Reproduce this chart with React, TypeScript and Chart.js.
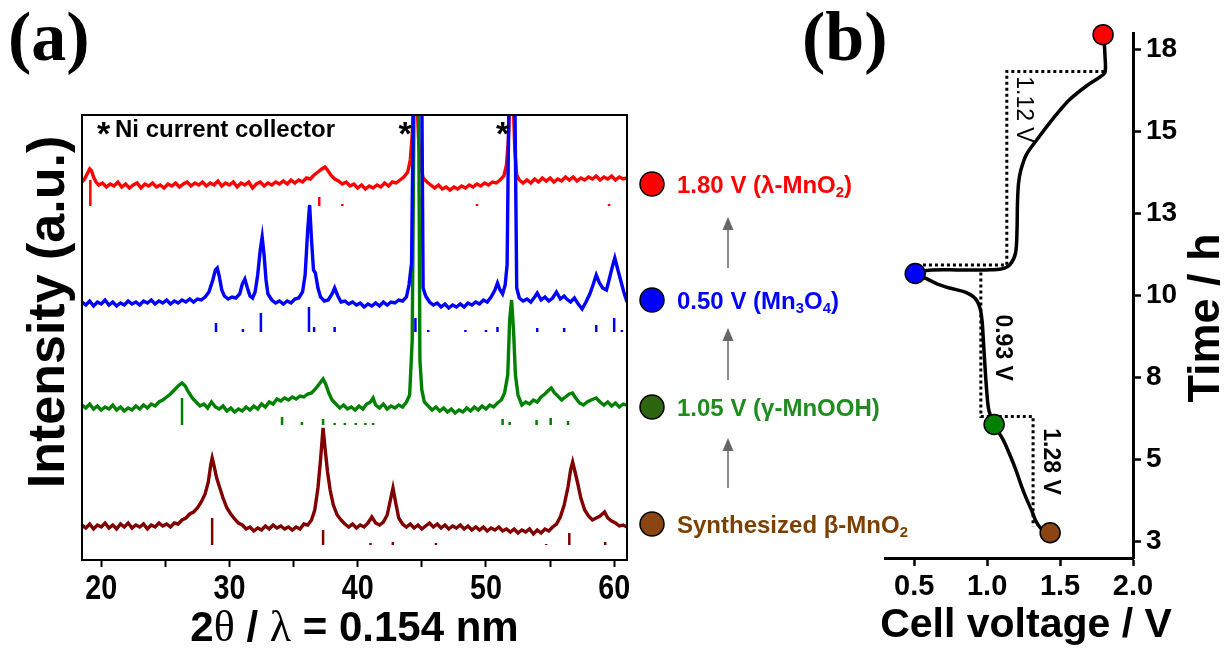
import React, { useEffect, useRef } from "react";
import { Chart, registerables } from "chart.js";

Chart.register(...registerables);

const SANS = "'Liberation Sans', Arial, Helvetica, sans-serif";
const SERIF = "'Liberation Serif', 'Times New Roman', Times, serif";

// ---------------- Panel (a): XRD patterns (2θ in °, intensity in a.u., stacked) ----------------
const thetaTicks = [20, 25, 30, 35, 40, 45, 50, 55, 60];
const thetaTickLabels = ["20", "", "30", "", "40", "", "50", "", "60"];

// 1.80 V (λ-MnO2)
const xrd180V: [number, number][] = [
  [18.5, 378], [18.7, 381], [18.9, 386], [19.1, 391], [19.25, 389], [19.4, 383], [19.6, 378], [19.8, 375],
  [20.1, 377], [20.4, 373], [20.7, 376], [21.0, 374], [21.3, 378], [21.6, 373], [21.9, 376], [22.2, 372],
  [22.5, 375], [22.8, 377], [23.1, 372], [23.4, 376], [23.7, 374], [24.0, 377], [24.3, 373], [24.6, 375],
  [24.9, 372], [25.2, 376], [25.5, 374], [25.8, 377], [26.1, 373], [26.4, 376], [26.7, 378], [27.0, 374],
  [27.3, 377], [27.6, 375], [27.9, 378], [28.2, 374], [28.5, 377], [28.8, 375], [29.1, 379], [29.4, 374],
  [29.7, 377], [30.0, 375], [30.3, 378], [30.6, 373], [30.9, 377], [31.2, 375], [31.5, 378], [31.8, 372],
  [32.1, 376], [32.4, 378], [32.7, 374], [33.0, 377], [33.3, 375], [33.6, 378], [33.9, 376], [34.2, 379],
  [34.5, 376], [34.8, 380], [35.1, 377], [35.4, 380], [35.7, 378], [36.0, 382], [36.3, 381], [36.6, 385],
  [36.9, 388], [37.2, 391], [37.45, 393], [37.7, 389], [37.9, 385], [38.2, 381], [38.5, 379], [38.8, 376],
  [39.1, 378], [39.4, 374], [39.7, 376], [40.0, 372], [40.3, 375], [40.6, 371], [40.9, 374], [41.2, 372],
  [41.5, 375], [41.8, 373], [42.1, 377], [42.4, 374], [42.7, 378], [43.0, 377], [43.3, 380], [43.6, 383],
  [43.9, 388], [44.1, 400], [44.25, 425], [44.4, 470], [44.6, 470], [44.75, 420], [44.9, 395], [45.1, 382],
  [45.4, 378], [45.7, 375], [46.0, 372], [46.3, 375], [46.6, 371], [46.9, 373], [47.2, 370], [47.5, 373],
  [47.8, 371], [48.1, 374], [48.4, 372], [48.7, 375], [49.0, 373], [49.3, 376], [49.6, 374], [49.9, 377],
  [50.2, 375], [50.5, 378], [50.8, 377], [51.1, 380], [51.4, 384], [51.6, 395], [51.75, 420], [51.9, 470],
  [52.1, 470], [52.25, 410], [52.4, 385], [52.6, 380], [52.9, 377], [53.2, 380], [53.5, 377], [53.8, 381],
  [54.1, 378], [54.4, 382], [54.7, 379], [55.0, 382], [55.3, 378], [55.6, 381], [55.9, 379], [56.2, 383],
  [56.5, 380], [56.8, 383], [57.1, 379], [57.4, 382], [57.7, 380], [58.0, 383], [58.3, 381], [58.6, 384],
  [58.9, 380], [59.2, 383], [59.5, 381], [59.8, 384], [60.1, 380], [60.4, 383], [60.7, 381], [61.0, 382],
];

// 0.50 V (Mn3O4)
const xrd050V: [number, number][] = [
  [18.5, 258], [18.8, 255], [19.1, 259], [19.4, 254], [19.7, 258], [20.0, 256], [20.3, 260], [20.6, 255],
  [20.9, 258], [21.2, 254], [21.5, 257], [21.8, 255], [22.1, 259], [22.4, 256], [22.7, 258], [23.0, 255],
  [23.3, 259], [23.6, 257], [23.9, 260], [24.2, 256], [24.5, 259], [24.8, 257], [25.1, 260], [25.4, 256],
  [25.7, 259], [26.0, 257], [26.3, 260], [26.6, 258], [26.9, 261], [27.2, 258], [27.5, 261], [27.8, 260],
  [28.1, 263], [28.4, 268], [28.7, 280], [28.9, 290], [29.05, 292], [29.2, 284], [29.4, 270], [29.6, 264],
  [29.9, 261], [30.2, 263], [30.5, 262], [30.8, 266], [31.0, 276], [31.2, 281], [31.4, 272], [31.6, 264],
  [31.8, 262], [32.0, 268], [32.2, 285], [32.4, 310], [32.55, 323], [32.7, 305], [32.85, 280], [33.0, 266],
  [33.3, 260], [33.6, 257], [33.9, 259], [34.2, 256], [34.5, 259], [34.8, 257], [35.1, 261], [35.4, 262],
  [35.7, 268], [35.9, 285], [36.1, 330], [36.25, 355], [36.4, 320], [36.55, 290], [36.7, 287], [36.9, 272],
  [37.1, 263], [37.4, 259], [37.7, 260], [38.0, 266], [38.2, 272], [38.45, 264], [38.7, 258], [39.0, 259],
  [39.3, 256], [39.6, 258], [39.9, 255], [40.2, 257], [40.5, 253], [40.8, 256], [41.1, 254], [41.4, 257],
  [41.7, 254], [42.0, 258], [42.3, 255], [42.6, 258], [42.9, 257], [43.2, 260], [43.5, 259], [43.8, 263],
  [44.0, 275], [44.2, 297], [44.35, 470], [45.0, 470], [45.1, 272], [45.3, 264], [45.6, 258], [45.9, 255],
  [46.2, 257], [46.5, 253], [46.8, 256], [47.1, 252], [47.4, 255], [47.7, 253], [48.0, 256], [48.3, 253],
  [48.6, 257], [48.9, 255], [49.2, 258], [49.5, 256], [49.8, 260], [50.1, 258], [50.4, 263], [50.7, 270],
  [50.9, 277], [51.1, 270], [51.3, 266], [51.5, 275], [51.65, 295], [51.8, 470], [52.25, 470], [52.4, 272],
  [52.6, 262], [52.9, 259], [53.2, 261], [53.5, 258], [53.8, 263], [54.0, 267], [54.3, 260], [54.6, 263],
  [54.9, 259], [55.2, 262], [55.5, 268], [55.8, 261], [56.1, 264], [56.3, 261], [56.6, 258], [56.9, 262],
  [57.2, 256], [57.5, 251], [57.8, 258], [58.1, 266], [58.35, 275], [58.6, 285], [58.85, 277], [59.1, 272],
  [59.4, 270], [59.6, 280], [59.85, 293], [60.05, 302], [60.25, 292], [60.5, 280], [60.75, 268], [61.0, 258],
];

// 1.05 V (γ-MnOOH)
const xrd105V: [number, number][] = [
  [18.5, 155], [18.8, 152], [19.1, 156], [19.4, 151], [19.7, 154], [20.0, 150], [20.3, 153], [20.6, 151],
  [20.9, 155], [21.2, 150], [21.5, 153], [21.8, 149], [22.1, 152], [22.4, 150], [22.7, 154], [23.0, 151],
  [23.3, 155], [23.6, 152], [23.9, 156], [24.2, 154], [24.5, 158], [24.8, 160], [25.1, 163], [25.4, 166],
  [25.7, 170], [26.0, 174], [26.3, 177], [26.55, 174], [26.8, 168], [27.1, 162], [27.4, 158], [27.7, 154],
  [28.0, 156], [28.3, 152], [28.6, 158], [28.9, 153], [29.2, 151], [29.5, 154], [29.8, 149], [30.1, 152],
  [30.4, 148], [30.7, 151], [31.0, 149], [31.3, 153], [31.6, 150], [31.9, 154], [32.2, 151], [32.5, 156],
  [32.8, 153], [33.1, 158], [33.4, 156], [33.7, 161], [34.0, 159], [34.3, 162], [34.6, 160], [34.9, 163],
  [35.2, 161], [35.5, 164], [35.8, 163], [36.1, 166], [36.4, 167], [36.7, 171], [37.0, 176], [37.3, 181],
  [37.5, 176], [37.75, 167], [38.0, 160], [38.3, 156], [38.6, 152], [38.9, 155], [39.2, 151], [39.5, 153],
  [39.8, 150], [40.1, 154], [40.4, 151], [40.7, 156], [41.0, 158], [41.2, 162], [41.4, 155], [41.7, 152],
  [42.0, 156], [42.3, 151], [42.6, 154], [42.9, 152], [43.2, 155], [43.5, 153], [43.8, 158], [44.05, 165],
  [44.25, 220], [44.4, 470], [44.75, 470], [44.85, 200], [45.0, 170], [45.2, 158], [45.5, 154], [45.8, 150],
  [46.1, 153], [46.4, 149], [46.7, 152], [47.0, 148], [47.3, 151], [47.6, 147], [47.9, 150], [48.2, 148],
  [48.5, 152], [48.8, 149], [49.1, 153], [49.4, 150], [49.7, 154], [50.0, 151], [50.3, 155], [50.6, 153],
  [50.9, 157], [51.2, 160], [51.45, 167], [51.7, 185], [51.85, 240], [52.0, 260], [52.15, 230], [52.3, 185],
  [52.5, 165], [52.8, 155], [53.1, 158], [53.4, 156], [53.7, 160], [54.0, 158], [54.3, 163], [54.6, 166],
  [54.9, 170], [55.1, 172], [55.35, 167], [55.6, 164], [55.9, 160], [56.2, 163], [56.5, 166], [56.75, 167],
  [57.0, 162], [57.3, 157], [57.6, 155], [57.9, 158], [58.2, 160], [58.6, 162], [58.9, 158], [59.2, 155],
  [59.5, 158], [59.8, 154], [60.1, 157], [60.4, 153], [60.7, 156], [61.0, 155],
];

// Synthesized β-MnO2
const xrdBeta: [number, number][] = [
  [18.5, 35], [18.8, 32], [19.1, 36], [19.4, 31], [19.7, 35], [20.0, 33], [20.3, 37], [20.6, 32],
  [20.9, 35], [21.2, 31], [21.5, 36], [21.8, 33], [22.1, 37], [22.4, 32], [22.7, 35], [23.0, 33],
  [23.3, 36], [23.6, 31], [23.9, 35], [24.2, 33], [24.5, 37], [24.8, 34], [25.1, 36], [25.4, 33],
  [25.7, 37], [26.0, 36], [26.3, 40], [26.6, 42], [26.9, 46], [27.2, 48], [27.5, 52], [27.8, 58],
  [28.1, 66], [28.35, 78], [28.55, 96], [28.65, 102], [28.8, 94], [29.0, 82], [29.2, 74], [29.5, 62],
  [29.8, 52], [30.1, 46], [30.4, 41], [30.7, 37], [31.0, 35], [31.3, 31], [31.6, 33], [31.9, 29],
  [32.2, 32], [32.5, 30], [32.8, 34], [33.1, 31], [33.4, 35], [33.7, 32], [34.0, 34], [34.3, 31],
  [34.6, 33], [34.9, 30], [35.2, 33], [35.5, 31], [35.8, 36], [36.1, 35], [36.4, 40], [36.65, 50],
  [36.9, 72], [37.1, 100], [37.3, 132], [37.45, 112], [37.65, 88], [37.85, 70], [38.1, 55], [38.4, 45],
  [38.7, 40], [39.0, 36], [39.3, 33], [39.6, 36], [39.9, 32], [40.2, 35], [40.5, 33], [40.8, 37],
  [41.1, 43], [41.4, 37], [41.7, 35], [42.0, 38], [42.3, 45], [42.55, 60], [42.75, 72], [42.95, 58],
  [43.2, 42], [43.5, 36], [43.8, 33], [44.1, 36], [44.4, 32], [44.7, 35], [45.0, 31], [45.3, 34],
  [45.6, 37], [45.9, 33], [46.2, 36], [46.5, 32], [46.8, 35], [47.1, 31], [47.4, 34], [47.7, 32],
  [48.0, 35], [48.3, 31], [48.6, 34], [48.9, 30], [49.2, 33], [49.5, 30], [49.8, 33], [50.1, 29],
  [50.4, 32], [50.7, 30], [51.0, 33], [51.3, 29], [51.6, 31], [51.9, 28], [52.2, 31], [52.5, 27],
  [52.8, 30], [53.1, 28], [53.4, 31], [53.7, 26], [54.0, 30], [54.3, 27], [54.6, 31], [54.9, 29],
  [55.2, 33], [55.5, 36], [55.8, 43], [56.1, 55], [56.4, 73], [56.6, 90], [56.76, 98], [56.95, 88],
  [57.15, 77], [57.4, 62], [57.7, 50], [58.0, 44], [58.3, 40], [58.6, 42], [58.9, 44], [59.25, 48],
  [59.5, 42], [59.8, 39], [60.1, 37], [60.4, 34], [60.7, 35], [61.0, 33],
];

// Reference (standard) patterns: [2θ, relative intensity]
const ref180V: [number, number][] = [[19.15, 26], [37.0, 9], [38.8, 2], [45.0, 9], [49.3, 2], [59.6, 2]];
const ref050V: [number, number][] = [
  [28.95, 9], [31.05, 3], [32.45, 19], [36.2, 25], [36.6, 5], [38.2, 5], [44.5, 14], [45.5, 2],
  [48.4, 2], [50.0, 2], [50.9, 5], [54.0, 4], [56.1, 4], [58.6, 7], [60.0, 14], [60.6, 2],
];
const ref105V: [number, number][] = [
  [26.3, 27], [34.1, 8], [35.65, 3], [37.3, 6], [38.2, 2], [39.0, 2], [39.85, 2], [40.6, 2],
  [41.2, 2], [51.3, 6], [51.85, 3], [53.95, 5], [55.05, 7], [56.4, 4],
];
const refBeta: [number, number][] = [
  [28.65, 27], [37.3, 15], [41.0, 2], [42.74, 3], [46.1, 2], [54.7, 1], [56.5, 12], [59.3, 3],
];
// vertical offsets of the stacked reference patterns (a.u.)
const refOffset180V = 354;
const refOffset050V = 228;
const refOffset105V = 135;
const refOffsetBeta = 15;

const niPeakStars = [43.7, 51.3];

const legendLabels: { t: string; sub?: boolean }[][] = [
  [{ t: "1.80 V (λ-MnO" }, { t: "2", sub: true }, { t: ")" }],
  [{ t: "0.50 V (Mn" }, { t: "3", sub: true }, { t: "O" }, { t: "4", sub: true }, { t: ")" }],
  [{ t: "1.05 V (γ-MnOOH)" }],
  [{ t: "Synthesized β-MnO" }, { t: "2", sub: true }],
];

// ---------------- Panel (b): time vs cell voltage ----------------
const voltageTicks = [0.5, 1.0, 1.5, 2.0];
const timeTicks = [3, 5.5, 8, 10.5, 13, 15.5, 18];
const timeTickLabels = ["3", "5", "8", "10", "13", "15", "18"];

const cellVoltage = [
  1.432, 1.4, 1.365, 1.335, 1.305, 1.27, 1.235, 1.2, 1.16, 1.11, 1.048, 1.012, 0.997, 0.986, 0.976,
  0.966, 0.952, 0.92, 0.85, 0.75, 0.66, 0.58, 0.507, 0.6, 0.8, 1.0, 1.1, 1.158, 1.195, 1.205, 1.208,
  1.215, 1.23, 1.27, 1.35, 1.43, 1.5, 1.568, 1.685, 1.77, 1.808, 1.808, 1.8,
];
const cellTime = [
  3.27, 3.3, 3.42, 3.62, 3.95, 4.3, 4.7, 5.15, 5.6, 6.1, 6.57, 7.0, 7.6, 8.3, 9.0,
  9.7, 10.1, 10.4, 10.6, 10.72, 10.85, 11.02, 11.17, 11.27, 11.28, 11.28, 11.31, 11.45, 11.8, 12.5, 13.3,
  13.9, 14.3, 14.8, 15.3, 15.77, 16.15, 16.48, 16.9, 17.15, 17.3, 17.8, 18.45,
];

const markerVoltage = [1.432, 1.048, 0.507, 1.795];
const markerTime = [3.27, 6.57, 11.17, 18.45];

const plateauVoltage = [0.56, 1.135, 1.135, 1.81, null, 0.957, 0.957, 1.315, 1.315];
const plateauTime = [11.43, 11.43, 17.33, 17.33, null, 11.2, 6.81, 6.81, 3.46];
const plateauLabels = ["1.12 V", "0.93 V", "1.28 V"];
const plateauLabelVoltage = [1.247, 1.103, 1.432];
const plateauLabelTime = [16.17, 8.91, 5.44];

// ---------------- helpers ----------------
function sticks(ref: [number, number][], base: number) {
  const out: { x: number; y: number | null }[] = [];
  ref.forEach(([x, h]) => {
    out.push({ x, y: base }, { x, y: base + h }, { x, y: null });
  });
  return out;
}

function drawRich(
  ctx: CanvasRenderingContext2D,
  segs: { t: string; sub?: boolean }[],
  x: number,
  y: number,
  size: number,
  color: string
) {
  let cx = x;
  ctx.fillStyle = color;
  ctx.textAlign = "left";
  ctx.textBaseline = "alphabetic";
  for (const s of segs) {
    const fs = s.sub ? size * 0.62 : size;
    ctx.font = `bold ${fs}px ${SANS}`;
    ctx.fillText(s.t, cx, s.sub ? y + size * 0.2 : y);
    cx += ctx.measureText(s.t).width;
  }
}

// text made of runs with their own fonts, centred on cx
function drawRuns(ctx: CanvasRenderingContext2D, runs: { t: string; font: string }[], cx: number, y: number) {
  let total = 0;
  runs.forEach((r) => {
    ctx.font = r.font;
    total += ctx.measureText(r.t).width;
  });
  let x = cx - total / 2;
  ctx.textAlign = "left";
  runs.forEach((r) => {
    ctx.font = r.font;
    ctx.fillText(r.t, x, y);
    x += ctx.measureText(r.t).width;
  });
}

function drawArrow(ctx: CanvasRenderingContext2D, x: number, yFrom: number, yTip: number) {
  ctx.strokeStyle = "#666";
  ctx.fillStyle = "#666";
  ctx.lineWidth = 1.5;
  ctx.beginPath();
  ctx.moveTo(x, yFrom);
  ctx.lineTo(x, yTip + 10);
  ctx.stroke();
  ctx.beginPath();
  ctx.moveTo(x, yTip);
  ctx.lineTo(x - 5.5, yTip + 13);
  ctx.lineTo(x + 5.5, yTip + 13);
  ctx.closePath();
  ctx.fill();
}

const traceColors = { r: "#ff0000", b: "#0000ff", g: "#008000", br: "#800000" };

const panelAPlugin = {
  id: "panelA",
  afterDraw(chart: any) {
    const { ctx, chartArea: ca, scales } = chart;
    ctx.save();
    // frame
    ctx.strokeStyle = "#000";
    ctx.lineWidth = 2;
    ctx.strokeRect(ca.left, ca.top, ca.right - ca.left, ca.bottom - ca.top);

    // x tick labels (condensed bold)
    ctx.fillStyle = "#000";
    ctx.font = `bold 35px ${SANS}`;
    ctx.textAlign = "center";
    ctx.textBaseline = "alphabetic";
    thetaTicks.forEach((v, i) => {
      const lab = thetaTickLabels[i];
      if (!lab) return;
      const px = scales.x.getPixelForValue(v);
      ctx.save();
      ctx.translate(px, 599);
      ctx.scale(0.82, 1);
      ctx.fillText(lab, 0, 0);
      ctx.restore();
    });

    // axis titles
    const bs = `bold 42px ${SANS}`;
    const gs = `44px ${SERIF}`;
    drawRuns(
      ctx,
      [
        { t: "2", font: bs },
        { t: "θ", font: gs },
        { t: " / ", font: bs },
        { t: "λ", font: gs },
        { t: " = 0.154 nm", font: bs },
      ],
      (ca.left + ca.right) / 2,
      641
    );
    ctx.save();
    ctx.translate(64, 312);
    ctx.rotate(-Math.PI / 2);
    ctx.textAlign = "center";
    ctx.font = `bold 52px ${SANS}`;
    ctx.fillText("Intensity (a.u.)", 0, 0);
    ctx.restore();

    // panel label
    ctx.textAlign = "left";
    ctx.font = `bold 70px ${SERIF}`;
    ctx.fillText("(a)", 8, 60);

    // Ni current collector note
    ctx.font = `bold 34px ${SANS}`;
    ctx.fillText("*", 97, 145);
    ctx.font = `bold 24px ${SANS}`;
    ctx.fillText("Ni current collector", 115, 137);
    ctx.font = `bold 34px ${SANS}`;
    ctx.textAlign = "center";
    niPeakStars.forEach((t) => {
      ctx.fillText("*", scales.x.getPixelForValue(t), 145);
    });

    // legend: circles, labels, arrows
    const legendY = [184, 300, 407, 524];
    const circleFill = ["#ff0000", "#0000ff", "#2f6410", "#8b4513"];
    const textColor = ["#ff0000", "#0000ff", "#1f8c1f", "#7b3f00"];
    legendY.forEach((cy, i) => {
      ctx.beginPath();
      ctx.arc(652, cy, 12, 0, Math.PI * 2);
      ctx.fillStyle = circleFill[i];
      ctx.fill();
      ctx.lineWidth = 1.5;
      ctx.strokeStyle = "#000";
      ctx.stroke();
      drawRich(ctx, legendLabels[i], 677, cy + 8.5, 24, textColor[i]);
    });
    drawArrow(ctx, 728, 268, 217);
    drawArrow(ctx, 728, 380, 328);
    drawArrow(ctx, 728, 488, 438);
    ctx.restore();
  },
};

const panelBPlugin = {
  id: "panelB",
  afterDraw(chart: any) {
    const { ctx, scales } = chart;
    ctx.save();
    ctx.fillStyle = "#000";
    ctx.textBaseline = "alphabetic";
    ctx.textAlign = "left";
    ctx.font = `bold 70px ${SERIF}`;
    ctx.fillText("(b)", 802, 60);

    ctx.textAlign = "center";
    ctx.font = `bold 41px ${SANS}`;
    ctx.fillText("Cell voltage / V", 1026, 637);

    ctx.save();
    ctx.translate(1219, 318);
    ctx.rotate(-Math.PI / 2);
    ctx.font = `bold 45px ${SANS}`;
    ctx.fillText("Time / h", 0, 0);
    ctx.restore();

    plateauLabels.forEach((lab, i) => {
      const px = scales.x.getPixelForValue(plateauLabelVoltage[i]);
      const py = scales.y.getPixelForValue(plateauLabelTime[i]);
      ctx.save();
      ctx.translate(px, py);
      ctx.rotate(Math.PI / 2);
      ctx.textBaseline = "middle";
      ctx.font = `${i === 0 ? "" : "bold "}23px ${SANS}`;
      ctx.fillText(lab, 0, 0);
      ctx.restore();
    });
    ctx.restore();
  },
};

export default function App() {
  const refA = useRef<HTMLCanvasElement>(null);
  const refB = useRef<HTMLCanvasElement>(null);

  useEffect(() => {
    const toXY = (arr: [number, number][]) => arr.map(([x, y]) => ({ x, y }));
    const traceDs = (data: [number, number][], color: string) => ({
      type: "line" as const,
      data: toXY(data),
      borderColor: color,
      borderWidth: 3.4,
      pointRadius: 0,
      tension: 0,
      fill: false,
    });
    const stickDs = (ref: [number, number][], base: number, color: string) => ({
      type: "line" as const,
      data: sticks(ref, base),
      borderColor: color,
      borderWidth: 2.5,
      borderCapStyle: "butt" as const,
      pointRadius: 0,
      spanGaps: false,
      tension: 0,
      fill: false,
    });

    const chartA = new Chart(refA.current as HTMLCanvasElement, {
      type: "line",
      data: {
        datasets: [
          traceDs(xrd050V, traceColors.b),
          traceDs(xrd105V, traceColors.g),
          traceDs(xrd180V, traceColors.r),
          traceDs(xrdBeta, traceColors.br),
          stickDs(ref180V, refOffset180V, traceColors.r),
          stickDs(ref050V, refOffset050V, traceColors.b),
          stickDs(ref105V, refOffset105V, traceColors.g),
          stickDs(refBeta, refOffsetBeta, traceColors.br),
        ] as any,
      },
      options: {
        responsive: false,
        maintainAspectRatio: false,
        animation: false,
        events: [],
        layout: { padding: { left: 82, right: 600, top: 115, bottom: 0 } },
        plugins: { legend: { display: false }, tooltip: { enabled: false } },
        scales: {
          x: {
            type: "linear",
            min: 18.5,
            max: 61,
            position: "bottom",
            afterBuildTicks: (s: any) => {
              s.ticks = thetaTicks.map((v) => ({ value: v }));
            },
            afterFit: (s: any) => {
              s.height = 88;
            },
            ticks: { display: false },
            grid: {
              display: true,
              drawOnChartArea: false,
              drawTicks: true,
              tickLength: 7,
              tickWidth: 2,
              color: "#000",
            },
            border: { display: false },
          },
          y: { type: "linear", min: 0, max: 445, display: false },
        },
      } as any,
      plugins: [panelAPlugin],
    });

    const axisFontB = { family: SANS, weight: "bold" as const };
    const chartB = new Chart(refB.current as HTMLCanvasElement, {
      type: "line",
      data: {
        datasets: [
          {
            data: markerVoltage.map((v, i) => ({ x: v, y: markerTime[i] })),
            showLine: false,
            pointRadius: 10,
            pointBackgroundColor: ["#8b4513", "#008000", "#0000ff", "#ff0000"],
            pointBorderColor: "#000",
            pointBorderWidth: 1.5,
            clip: false,
          },
          {
            data: cellVoltage.map((v, i) => ({ x: v, y: cellTime[i] })),
            borderColor: "#000",
            borderWidth: 3.5,
            pointRadius: 0,
            tension: 0.3,
            fill: false,
          },
          {
            data: plateauVoltage.map((v, i) => ({ x: v === null ? 1 : v, y: plateauTime[i] })),
            borderColor: "#000",
            borderWidth: 3,
            borderDash: [3, 3],
            pointRadius: 0,
            spanGaps: false,
            tension: 0,
            fill: false,
          },
        ] as any,
      },
      options: {
        responsive: false,
        maintainAspectRatio: false,
        animation: false,
        events: [],
        layout: { padding: { left: 885, right: 0, top: 33, bottom: 0 } },
        plugins: { legend: { display: false }, tooltip: { enabled: false } },
        scales: {
          x: {
            type: "linear",
            min: 0.3,
            max: 2.0,
            position: "bottom",
            afterBuildTicks: (s: any) => {
              s.ticks = voltageTicks.map((v) => ({ value: v }));
            },
            afterFit: (s: any) => {
              s.height = 90;
            },
            ticks: {
              color: "#000",
              padding: 4,
              maxRotation: 0,
              font: { ...axisFontB, size: 29 },
              callback: (v: any) => Number(v).toFixed(1),
            },
            grid: {
              display: true,
              drawOnChartArea: false,
              drawTicks: true,
              tickLength: 8,
              tickWidth: 2.5,
              color: "#000",
            },
            border: { display: true, color: "#000", width: 3 },
          },
          y: {
            type: "linear",
            min: 2.5,
            max: 18.5,
            position: "right",
            afterBuildTicks: (s: any) => {
              s.ticks = timeTicks.map((v) => ({ value: v }));
            },
            afterFit: (s: any) => {
              s.width = 94;
            },
            ticks: {
              color: "#000",
              padding: 5,
              font: { ...axisFontB, size: 28 },
              callback: (_v: any, i: number) => timeTickLabels[i],
            },
            grid: {
              display: true,
              drawOnChartArea: false,
              drawTicks: true,
              tickLength: 8,
              tickWidth: 2.5,
              color: "#000",
            },
            border: { display: true, color: "#000", width: 3 },
          },
        },
      } as any,
      plugins: [panelBPlugin],
    });

    return () => {
      chartA.destroy();
      chartB.destroy();
    };
  }, []);

  const canvasStyle: React.CSSProperties = {
    position: "absolute",
    left: 0,
    top: 0,
    width: 1227,
    height: 648,
    display: "block",
  };

  return (
    <div
      style={{
        position: "fixed",
        left: 0,
        top: 0,
        width: 1227,
        height: 648,
        background: "#fff",
        overflow: "hidden",
      }}
    >
      <canvas ref={refA} width={1227} height={648} style={canvasStyle} />
      <canvas ref={refB} width={1227} height={648} style={canvasStyle} />
    </div>
  );
}
